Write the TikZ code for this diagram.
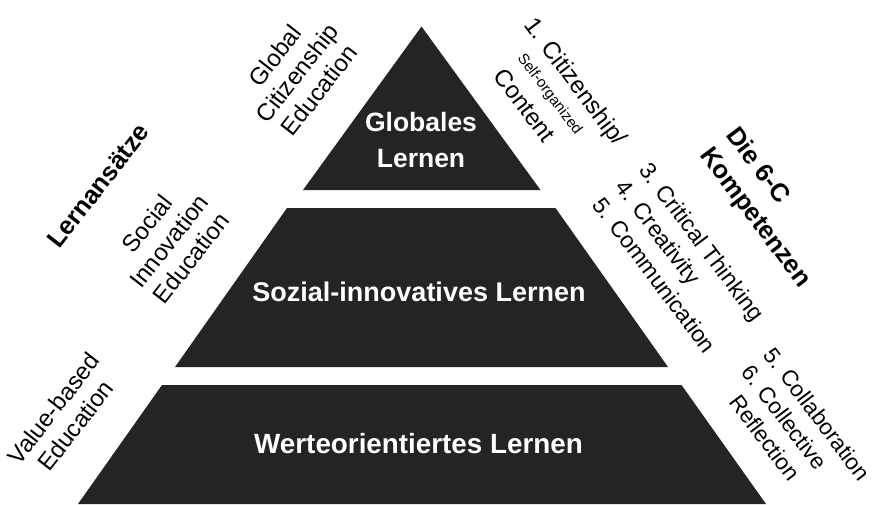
\documentclass[tikz,border=0pt]{standalone}
\usepackage{fontspec}
\setmainfont{Liberation Sans}
\definecolor{pyr}{HTML}{242424}
\begin{document}
\begin{tikzpicture}[x=1pt,y=-1pt,
  tier/.style={fill=pyr},
  tierlabel/.style={text=white,font=\fontsize{26.5}{36.5}\selectfont\bfseries,inner sep=0pt,align=center},
  sidel/.style={font=\fontsize{24}{28}\selectfont,inner sep=0pt,align=center,rotate=52},
  sider/.style={font=\fontsize{23}{29}\selectfont,inner sep=0pt,align=left,rotate=-53},
  ]
\useasboundingbox (0,0) rectangle (874,504);
% pyramid tiers
\fill[tier] (421.5,26.5) -- (540.5,190) -- (303,190) -- cycle;
\fill[tier] (287,208) -- (555.5,208) -- (668,367) -- (175,367) -- cycle;
\fill[tier] (162,385) -- (681.5,385) -- (766,504) -- (78,504) -- cycle;
% tier labels
\node[tierlabel] (glob) at (421,140) {Globales\\Lernen};
\node[tierlabel,anchor=base,font=\fontsize{27}{36}\selectfont\bfseries] (sozial) at (419,301) {Sozial-innovatives Lernen};
\node[tierlabel,anchor=base,font=\fontsize{27.8}{36}\selectfont\bfseries] (werte) at (418.5,453) {Werteorientiertes Lernen};
% left side
\node[sidel] (gce) at (297,73) {Global\\Citizenship\\Education};
\node[sidel,font=\fontsize{25.5}{30}\selectfont\bfseries] (lern) at (98,186) {Lernansätze};
\node[sidel] (sie) at (169,241) {Social\\Innovation\\Education};
\node[sidel] (vbe) at (64.5,417) {Value-based\\Education};
% right side
\node[sider,anchor=base west,font=\fontsize{24}{28}\selectfont] (c1) at (523,25) {1. Citizenship/};
\node[sider,anchor=base west,font=\fontsize{15}{18}\selectfont] (c2) at (517,58) {Self-organized};
\node[sider,anchor=base west,font=\fontsize{24}{28}\selectfont] (c3) at (492.5,76.5) {Content};
\node[sider] (ccc) at (679,259) {3. Critical Thinking\\4. Creativity\\5. Communication};
\node[sider,font=\fontsize{25.5}{33}\selectfont\bfseries] (sixc) at (768,208) {Die 6-C\\Kompetenzen};
\node[sider,font=\fontsize{22.5}{28}\selectfont] (coll) at (795,431) {5. Collaboration\\6. Collective\\\hspace*{17pt}Reflection};
\end{tikzpicture}
\end{document}
